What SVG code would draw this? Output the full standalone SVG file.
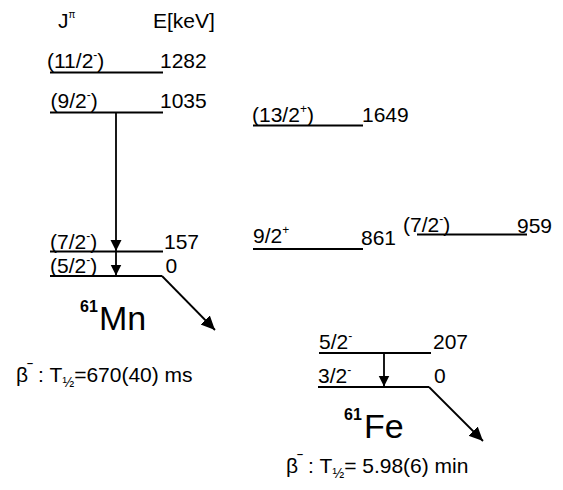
<svg xmlns="http://www.w3.org/2000/svg" width="563" height="490" viewBox="0 0 563 490">
<style>
text{font-family:"Liberation Sans",Arial,sans-serif;fill:#000}
.t{font-size:21px}
.s{font-size:12px}
.p{font-size:10px}
.h{font-size:14px}
.big{font-size:34px}
.iso{font-size:16px;font-weight:bold}
.lv{stroke:#000;stroke-width:2;fill:none}
.ar{stroke:#000;stroke-width:1.8;fill:none}
</style>
<defs>
<marker id="ah" markerUnits="userSpaceOnUse" markerWidth="13" markerHeight="13" refX="11" refY="6.5" orient="auto">
<path d="M0,1 L11,6.5 L0,12 Z" fill="#000"/>
</marker>
<marker id="ahb" markerUnits="userSpaceOnUse" markerWidth="15" markerHeight="15" refX="14" refY="7.5" orient="auto">
<path d="M0,1 L14,7.5 L0,14 Z" fill="#000"/>
</marker>
</defs>
<rect width="563" height="490" fill="#fff"/>
<g id="header">
<text class="t" x="58" y="28">J<tspan class="p" dy="-10">π</tspan></text>
<text class="t" x="153" y="28">E[keV]</text>
</g>
<g id="mn-1282">
<line class="lv" x1="50" y1="72.5" x2="163" y2="72.5"/>
<text class="t" x="47" y="68">(11/2<tspan class="s" dy="-9">-</tspan><tspan dy="9">)</tspan></text>
<text class="t" x="160" y="68">1282</text>
</g>
<g id="mn-1035">
<line class="lv" x1="50" y1="112.5" x2="163" y2="112.5"/>
<text class="t" x="50.5" y="108">(9/2<tspan class="s" dy="-9">-</tspan><tspan dy="9">)</tspan></text>
<text class="t" x="160" y="108">1035</text>
</g>
<g id="mn-157">
<line class="lv" x1="50" y1="251.5" x2="163" y2="251.5"/>
<text class="t" x="50" y="248.5">(7/2<tspan class="s" dy="-9">-</tspan><tspan dy="9">)</tspan></text>
<text class="t" x="164" y="249">157</text>
</g>
<g id="mn-0">
<line class="lv" x1="50" y1="276" x2="162" y2="276"/>
<text class="t" x="50" y="273">(5/2<tspan class="s" dy="-9">-</tspan><tspan dy="9">)</tspan></text>
<text class="t" x="165.5" y="273">0</text>
</g>
<g id="mn-label">
<text class="iso" x="80" y="312">61</text>
<text class="big" x="99" y="330">Mn</text>
<text class="t" x="16" y="382">β<tspan class="s" dy="-9" font-weight="bold">‾</tspan><tspan dy="9"> : T</tspan><tspan class="h" dy="5">½</tspan><tspan dy="-5">=670(40) ms</tspan></text>
</g>
<g id="fe-1649">
<line class="lv" x1="253" y1="125.5" x2="363" y2="125.5"/>
<text class="t" x="252" y="122">(13/2<tspan class="s" dy="-9">+</tspan><tspan dy="9">)</tspan></text>
<text class="t" x="362" y="122">1649</text>
</g>
<g id="fe-861">
<line class="lv" x1="253" y1="249" x2="363" y2="249"/>
<text class="t" x="253" y="243">9/2<tspan class="s" dy="-9">+</tspan></text>
<text class="t" x="361" y="245">861</text>
</g>
<g id="fe-959">
<line class="lv" x1="417" y1="234.5" x2="527" y2="234.5"/>
<text class="t" x="403" y="232">(7/2<tspan class="s" dy="-9">-</tspan><tspan dy="9">)</tspan></text>
<text class="t" x="517" y="233">959</text>
</g>
<g id="fe-207">
<line class="lv" x1="319" y1="353" x2="431" y2="353"/>
<text class="t" x="319" y="349">5/2<tspan class="s" dy="-9">-</tspan></text>
<text class="t" x="433" y="349">207</text>
</g>
<g id="fe-0">
<line class="lv" x1="318" y1="387" x2="429" y2="387"/>
<text class="t" x="318" y="383">3/2<tspan class="s" dy="-9">-</tspan></text>
<text class="t" x="434" y="383">0</text>
</g>
<g id="fe-label">
<text class="iso" x="344" y="420">61</text>
<text class="big" x="364" y="438">Fe</text>
<text class="t" x="286" y="473">β<tspan class="s" dy="-9" font-weight="bold">‾</tspan><tspan dy="9"> : T</tspan><tspan class="h" dy="5">½</tspan><tspan dy="-5">= 5.98(6) min</tspan></text>
</g>
<g id="connectors">
<line class="ar" x1="116" y1="113" x2="116" y2="251" marker-end="url(#ah)"/>
<line class="ar" x1="116" y1="252" x2="116" y2="275.5" marker-end="url(#ah)"/>
<line class="ar" x1="384" y1="353" x2="384" y2="386.5" marker-end="url(#ah)"/>
<line class="ar" x1="162" y1="276" x2="215" y2="330" marker-end="url(#ahb)"/>
<line class="ar" x1="429" y1="387" x2="483" y2="441" marker-end="url(#ahb)"/>
</g>
</svg>
